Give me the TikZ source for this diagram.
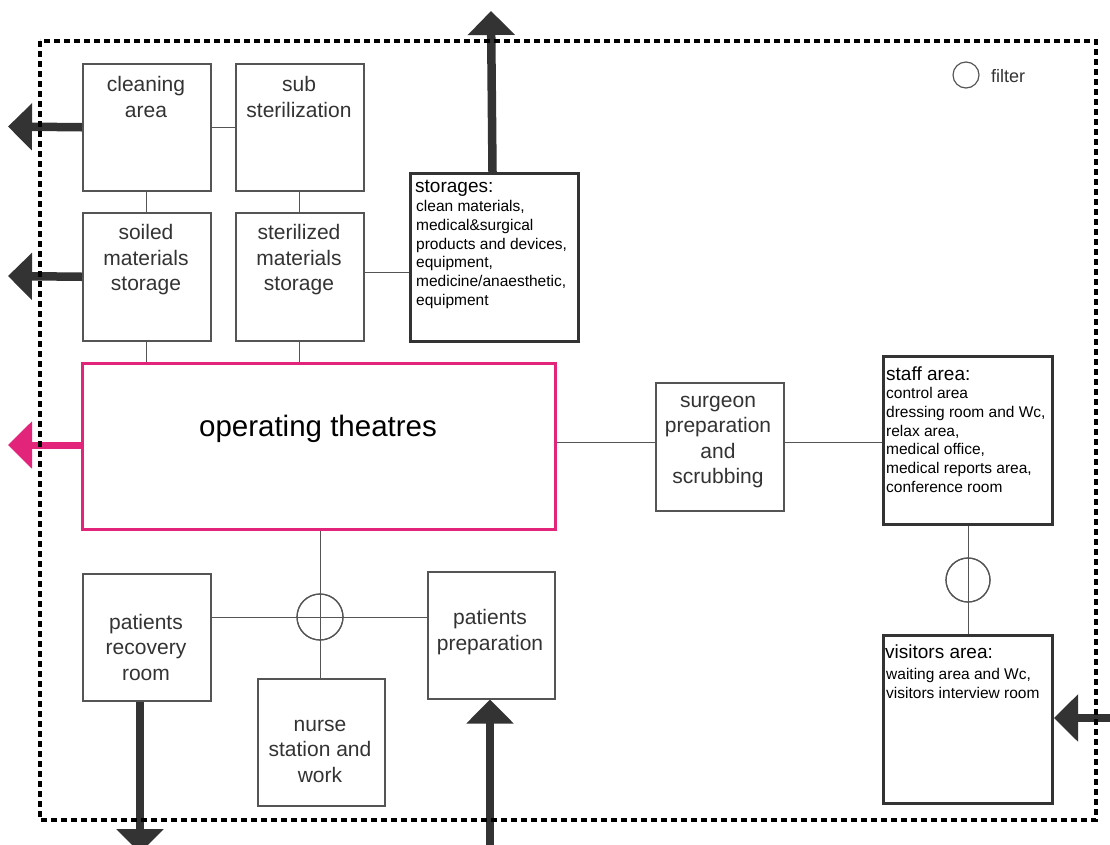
\documentclass[tikz,border=0pt]{standalone}
\usepackage{fontspec}
\setmainfont{Liberation Sans}
\usetikzlibrary{arrows.meta}
\definecolor{pinkc}{RGB}{226,36,123}
\definecolor{dk}{RGB}{51,51,51}
\definecolor{gr}{RGB}{85,85,85}
\begin{document}
\begin{tikzpicture}[x=1pt,y=-1pt,
  box/.style={draw=gr, line width=1.5pt, fill=white, inner sep=0pt, anchor=north west},
  thickbox/.style={draw=dk, line width=3pt, fill=white, inner sep=0pt, anchor=north west},
  otbox/.style={draw=pinkc, line width=3pt, fill=white, inner sep=0pt, anchor=north west},
  conn/.style={draw=gr, line width=1pt},
  bigarrow/.style={draw=dk, line width=8.5pt, -{Triangle[width=46pt,length=24pt]}},
  pinkarrow/.style={draw=pinkc, line width=7pt, -{Triangle[width=46pt,length=24pt]}},
  lbl/.style={font=\fontsize{21}{25.5}\selectfont, align=center, text=dk, inner sep=0pt},
  head/.style={font=\fontsize{19}{22}\selectfont, align=left, text=black, inner sep=0pt, anchor=north west},
  items/.style={font=\fontsize{15.5}{18.8}\selectfont, align=left, text=black, inner sep=0pt, anchor=north west},
  filt/.style={circle, draw=gr, line width=1.2pt, inner sep=0pt}
]
\useasboundingbox (0,0) rectangle (1110,844);

% boxes
\node[box, minimum width=128pt, minimum height=127pt] (clean) at (82,63) {};
\node[box, minimum width=128pt, minimum height=127pt] (sub) at (235,63) {};
\node[box, minimum width=128pt, minimum height=128pt] (soiled) at (82,212) {};
\node[box, minimum width=128pt, minimum height=128pt] (steril) at (235,212) {};
\node[thickbox, minimum width=168pt, minimum height=168pt] (stor) at (409,172) {};
\node[otbox, minimum width=473pt, minimum height=166pt] (ot) at (81,362) {};
\node[box, minimum width=128pt, minimum height=128pt] (surg) at (655,382) {};
\node[thickbox, minimum width=169pt, minimum height=168pt] (staff) at (882,355) {};
\node[thickbox, minimum width=169pt, minimum height=168pt] (visit) at (882,634) {};
\node[box, minimum width=128pt, minimum height=127pt] (recov) at (82,573) {};
\node[box, minimum width=127pt, minimum height=127pt] (prep) at (427,571) {};
\node[box, minimum width=127pt, minimum height=127pt] (nurse) at (257,678) {};
\node[filt, minimum size=46pt] (fc1) at (320,617) {};
\node[filt, minimum size=44pt] (fc2) at (968,580) {};

% connectors
\draw[conn] (clean) -- (sub);
\draw[conn] (clean) -- (soiled);
\draw[conn] (sub) -- (steril);
\draw[conn] ([yshift=4pt]steril.east) -- ([yshift=4pt]steril.east -| stor.west);
\draw[conn] (soiled.south) -- (soiled.south |- ot.north);
\draw[conn] (steril.south) -- (steril.south |- ot.north);
\draw[conn] ([yshift=4pt]surg.west) -- ([yshift=4pt]surg.west -| ot.east);
\draw[conn] ([yshift=4pt]surg.east) -- ([yshift=4pt]surg.east -| staff.west);
\draw[conn] (staff.south -| fc2) -- (visit.north -| fc2);
\draw[conn] (ot.south -| fc1) -- (nurse.north -| fc1);
\draw[conn] (recov.east |- fc1) -- (prep.west |- fc1);
\node[filt, minimum size=46pt] at (fc1) {};
\node[filt, minimum size=44pt] at (fc2) {};

% free ends of arrows
\coordinate (exN) at (491,11);
\coordinate (exC) at (8,126.5);
\coordinate (exS) at (8,276);
\coordinate (exO) at (8,445);
\coordinate (exR) at (140,853);
\coordinate (inP) at (490,850);
\coordinate (inV) at (1116,718);

\draw[bigarrow] ([xshift=-2pt]stor.north) -- (exN);
\draw[bigarrow] (clean.west) -- (exC);
\draw[bigarrow] (soiled.west) -- (exS);
\draw[pinkarrow] (ot.west |- exO) -- (exO);
\draw[bigarrow] (recov.south -| exR) -- (exR);
\draw[bigarrow] (inP) -- (prep.south -| inP);
\draw[bigarrow] (inV) -- (visit.east |- inV);

% dotted border
\draw[black, line width=3.5pt, dash pattern=on 6pt off 4pt] (40,41) rectangle (1096,820);

% labels
\node[lbl] (tclean) at (146,97) {cleaning\\area};
\node[lbl] (tsub) at (299,97) {sub\\sterilization};
\node[lbl] (tsoiled) at (146,260) {soiled\\materials\\storage};
\node[lbl] (tsteril) at (299,260) {sterilized\\materials\\storage};
\node[lbl, font=\fontsize{29.5}{33}\selectfont, text=black] (tot) at (318,429) {operating theatres};
\node[lbl] (tsurg) at (718,442) {surgeon\\preparation\\and\\scrubbing};
\node[lbl] (trecov) at (146,647) {patients\\recovery\\room};
\node[lbl] (tprep) at (490,632) {patients\\preparation};
\node[lbl] (tnurse) at (320,751) {nurse\\station and\\work};

\node[head] (hstor) at (415,180) {storages:};
\node[items] (istor) at (416,200) {clean materials,\\medical\&surgical\\products and devices,\\equipment,\\medicine/anaesthetic,\\equipment};
\node[head] (hstaff) at (886,367) {staff area:};
\node[items] (istaff) at (886,387) {control area\\dressing room and Wc,\\relax area,\\medical office,\\medical reports area,\\conference room};
\node[head] (hvis) at (885,645) {visitors area:};
\node[items] (ivis) at (886,668) {waiting area and Wc,\\visitors interview room};

% legend
\node[filt, minimum size=26pt] (leg) at (966,75) {};
\node[anchor=west, inner sep=0pt, font=\fontsize{18}{20}\selectfont, text=dk] (legt) at (991,76) {filter};
\end{tikzpicture}
\end{document}
